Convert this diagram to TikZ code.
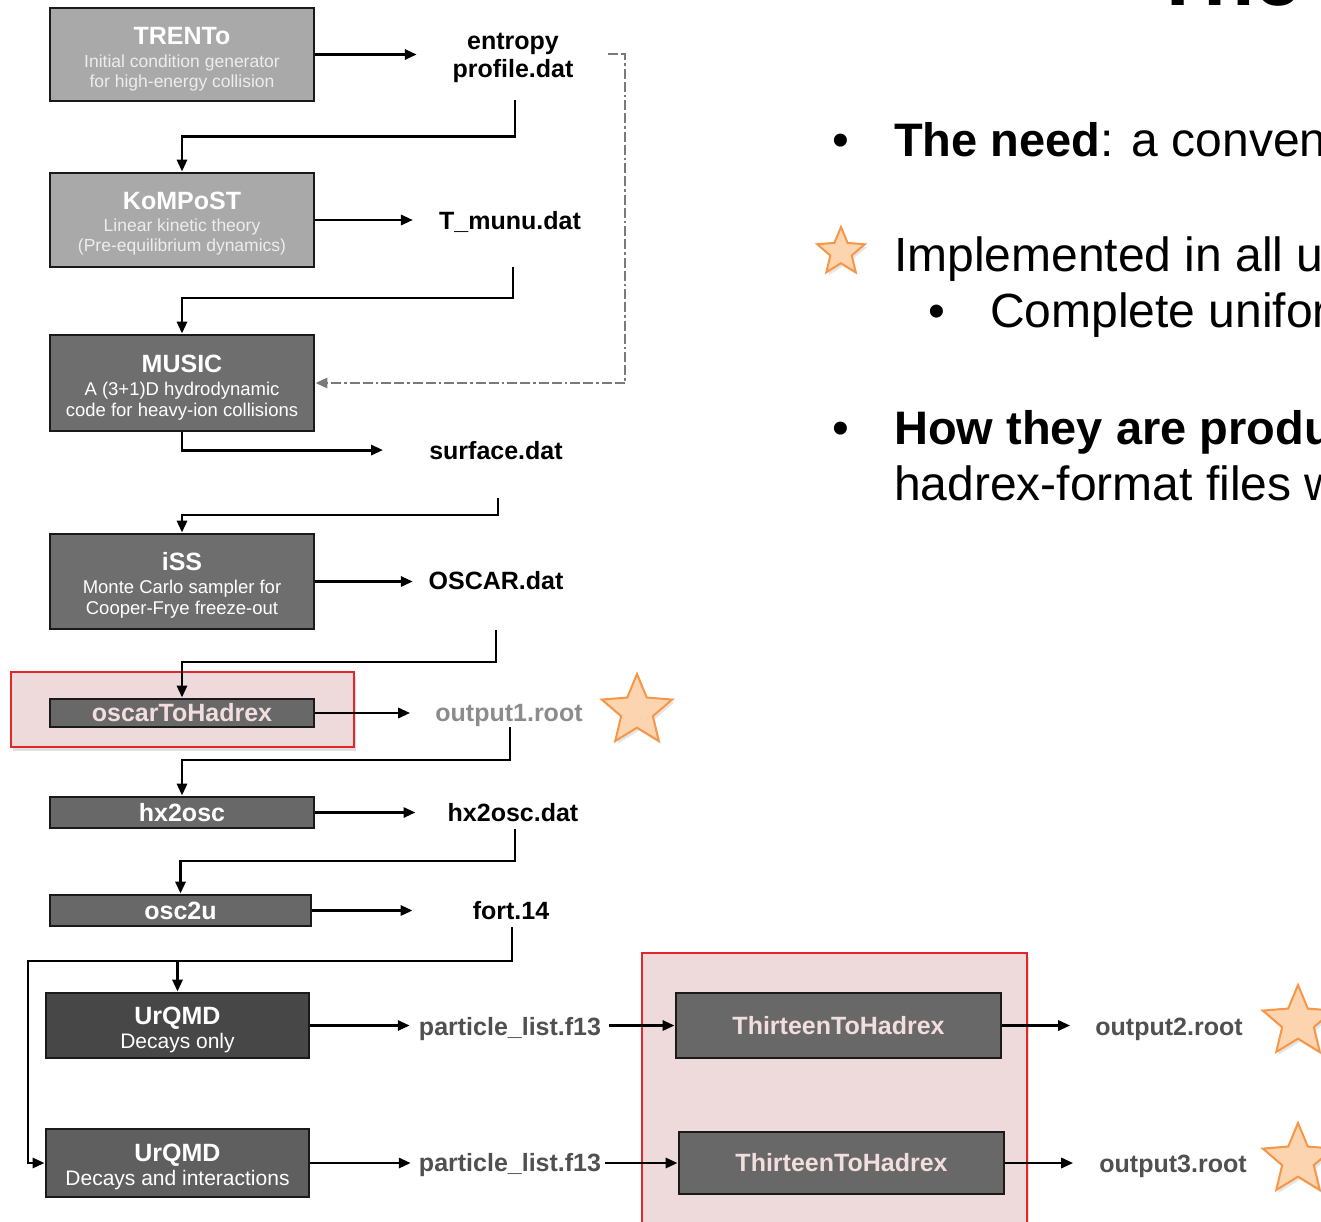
\documentclass[tikz,border=0pt]{standalone}
\usepackage{fontspec}
\setmainfont{Liberation Sans}
\usetikzlibrary{arrows.meta,shadows,calc}
\definecolor{boxline}{HTML}{1A1A1A}
\definecolor{lightfill}{HTML}{A9A9A9}
\definecolor{midfill}{HTML}{6E6E6E}
\definecolor{procfill}{HTML}{686868}
\definecolor{urqone}{HTML}{474747}
\definecolor{urqtwo}{HTML}{5F5F5F}
\definecolor{pinktext}{HTML}{F2DEDE}
\definecolor{subgray}{HTML}{EDEDED}
\definecolor{hlfill}{HTML}{EFDADB}
\definecolor{hlred}{HTML}{E3262B}
\definecolor{fbgray}{HTML}{7A7A7A}
\definecolor{outgray}{HTML}{8C8C8C}
\definecolor{dkgray}{HTML}{505050}
\definecolor{starline}{HTML}{F79646}
\definecolor{starfill}{HTML}{FCD5B0}
\newcommand\drawstar[3]{%
  \draw[starst, shift={(#1,#2)}] (-90:#3) -- (-54:{0.45*#3}) -- (-18:#3) -- (18:{0.45*#3})
    -- (54:#3) -- (90:{0.45*#3}) -- (126:#3) -- (162:{0.45*#3}) -- (198:#3) -- (234:{0.45*#3}) -- cycle;}
\newcommand\boxtitle[2]{{\fontsize{25}{28}\selectfont\bfseries\rule{0pt}{#1}#2}}
\tikzset{
  boxbase/.style={draw=boxline, line width=2.8pt, rectangle, inner sep=0pt, align=center},
  lightbox/.style={boxbase, fill=lightfill, text=white, font=\fontsize{17.5}{20}\selectfont},
  darkbox/.style={boxbase, fill=midfill, text=white, font=\fontsize{18.5}{21}\selectfont},
  procbox/.style={boxbase, fill=procfill, text=white, font=\fontsize{25}{28}\selectfont\bfseries},
  urqbox/.style={boxbase, text=white, font=\fontsize{21}{24}\selectfont},
  arr/.style={draw=black, line width=2.9pt, -{Triangle[length=12pt,width=10pt]}},
  fb/.style={draw=fbgray, line width=2.8pt, dash pattern=on 10pt off 3pt on 10pt off 3pt on 2.5pt off 3pt, -{Triangle[length=12pt,width=10pt]}},
  flabel/.style={inner sep=0pt, font=\fontsize{25}{28}\selectfont\bfseries},
  hl/.style={fill=hlfill, draw=hlred, line width=1.8pt, drop shadow={opacity=0.25, shadow xshift=2pt, shadow yshift=-4pt}},
  starst/.style={fill=starfill, draw=starline, line width=2pt, line join=miter, drop shadow={opacity=0.2, shadow xshift=2pt, shadow yshift=-3pt}},
  bigtxt/.style={inner sep=0pt, font=\fontsize{48}{58}\selectfont},
}
\begin{document}
\begin{tikzpicture}[x=1pt,y=-1pt]
\useasboundingbox (0,0) rectangle (1321,1221);
\clip (0,0) rectangle (1321,1221);
\fill[white] (0,0) rectangle (1321,1221);

% highlight frames
\draw[hl] (11,672) rectangle (354,747);
\draw[hl] (642,953) rectangle (1027,1240);

% process boxes
\node[lightbox, minimum width=264pt, minimum height=93pt] (trento) at (182,54.5)
  {\boxtitle{26pt}{TRENTo}\\[3pt]{\color{subgray}Initial condition generator}\\{\color{subgray}for high-energy collision}};
\node[lightbox, minimum width=264pt, minimum height=94pt] (kompost) at (182,220)
  {\boxtitle{24.5pt}{KoMPoST}\\[2pt]{\color{subgray}Linear kinetic theory}\\{\color{subgray}(Pre-equilibrium dynamics)}};
\node[darkbox, minimum width=264pt, minimum height=96pt] (music) at (182,383)
  {\boxtitle{26pt}{MUSIC}\\[2pt]A (3+1)D hydrodynamic\\code for heavy-ion collisions};
\node[darkbox, minimum width=264pt, minimum height=95pt] (iss) at (182,581.5)
  {\boxtitle{26pt}{iSS}\\[2pt]Monte Carlo sampler for\\Cooper-Frye freeze-out};
\node[procbox, text=pinktext, minimum width=264pt, minimum height=28pt] (ohx) at (182,713) {oscarToHadrex};
\node[procbox, minimum width=264pt, minimum height=31pt] (hx) at (182,812.5) {hx2osc};
\node[procbox, minimum width=261pt, minimum height=31pt] (o2u) at (180.5,910.5) {osc2u};
\node[urqbox, fill=urqone, minimum width=263pt, minimum height=65pt] (urq1) at (177.5,1025.5)
  {\boxtitle{26pt}{UrQMD}\\Decays only};
\node[urqbox, fill=urqtwo, minimum width=263pt, minimum height=68pt] (urq2) at (177.5,1163)
  {\boxtitle{26pt}{UrQMD}\\Decays and interactions};
\node[procbox, text=pinktext, fill=procfill, minimum width=325pt, minimum height=65pt] (th1) at (838.5,1025.5) {ThirteenToHadrex};
\node[procbox, text=pinktext, fill=procfill, minimum width=325pt, minimum height=62pt] (th2) at (841.5,1163) {ThirteenToHadrex};

% file labels
\node[flabel, align=center, anchor=south] (ent) at (513,83.3) {entropy\\profile.dat};
\node[flabel, anchor=base] (tmunu) at (510,229) {T\_munu.dat};
\node[flabel, anchor=base] (surf) at (496,459) {surface.dat};
\node[flabel, anchor=base] (osc) at (496,589) {OSCAR.dat};
\node[flabel, anchor=base, text=outgray] (out1) at (509,721) {output1.root};
\node[flabel, anchor=base] (hxd) at (513,821) {hx2osc.dat};
\node[flabel, anchor=base] (fort) at (511,919) {fort.14};
\node[flabel, anchor=base, text=dkgray] (pl1) at (510,1035) {particle\_list.f13};
\node[flabel, anchor=base, text=dkgray] (pl2) at (510,1171) {particle\_list.f13};
\node[flabel, anchor=base, text=dkgray] (out2) at (1169,1035) {output2.root};
\node[flabel, anchor=base, text=dkgray] (out3) at (1173,1172) {output3.root};

% box -> file arrows
\draw[arr, shorten >=35.6pt] (trento.east) -- (trento.east -| ent.west);
\draw[arr, shorten >=26pt] (kompost.east) -- (kompost.east -| tmunu.west);
\draw[arr, shorten >=46pt] (music.south) |- (surf.west);
\draw[arr, shorten >=15.6pt] (iss.east) -- (iss.east -| osc.west);
\draw[arr, shorten >=25pt] (ohx.east) -- (ohx.east -| out1.west);
\draw[arr, shorten >=32pt] (hx.east) -- (hx.east -| hxd.west);
\draw[arr, shorten >=60pt] (o2u.east) -- (o2u.east -| fort.west);
\draw[arr, shorten >=9pt] (urq1.east) -- (urq1.east -| pl1.west);
\draw[arr, shorten >=8pt] (urq2.east) -- (urq2.east -| pl2.west);
\draw[arr, shorten <=8pt] (pl1.east |- th1.west) -- (th1.west);
\draw[arr, shorten <=4pt] (pl2.east |- th2.west) -- (th2.west);
\draw[arr, shorten >=25pt] (th1.east) -- (th1.east -| out2.west);
\draw[arr, shorten >=26pt] (th2.east) -- (th2.east -| out3.west);

% file -> next box connectors
\draw[arr] (ent.south) ++(2,17) -- ++(0,36) -| (kompost.north);
\draw[arr] (tmunu.base) ++(3,38) -- ++(0,31) -| (music.north);
\draw[arr] (surf.base) ++(2,39) -- ++(0,17) -| (iss.north);
\draw[arr] (osc.base) ++(0,41) -- ++(0,32) -| (ohx.north);
\draw[arr] (out1.base) ++(1,6) -- ++(0,33) -| (hx.north);
\draw[arr] (hxd.base) ++(2,8) -- ++(0,32) -| (o2u.north);
\coordinate (split) at (28,961);
\draw[arr] (fort.base) ++(1,8) |- (split) |- (urq2.west);
\draw[arr] (urq1.north |- split) -- (urq1.north);

% feedback dash-dot line
\coordinate (fbs) at (608,54);
\coordinate (fbc) at (625,54);
\draw[fb] (fbs) -- (fbc) |- (music.east);

% stars
\drawstar{637}{711}{37}
\drawstar{1298}{1022}{37}
\drawstar{1298}{1160}{37}
\drawstar{841}{252}{25}

% slide text
\node[anchor=base west, inner sep=0pt, font=\fontsize{84}{90}\selectfont\bfseries] (title) at (1152,5) {The};
\node[bigtxt, anchor=base] (b1) at (841,156) {•};
\node[bigtxt, anchor=base west] (t1) at (894,156) {{\fontsize{47}{58}\selectfont\bfseries The need}: a conven};
\node[bigtxt, anchor=base west] (t2) at (894,271) {Implemented in all u};
\node[bigtxt, anchor=base] (b2) at (937,327) {•};
\node[bigtxt, anchor=base west] (t3) at (990,327) {Complete unifor};
\node[bigtxt, anchor=base] (b3) at (841,444) {•};
\node[bigtxt, anchor=base west] (t4) at (894,444) {{\fontsize{47}{58}\selectfont\bfseries How they are produ}};
\node[bigtxt, anchor=base west] (t5) at (894,500) {hadrex-format files w};
\end{tikzpicture}
\end{document}
